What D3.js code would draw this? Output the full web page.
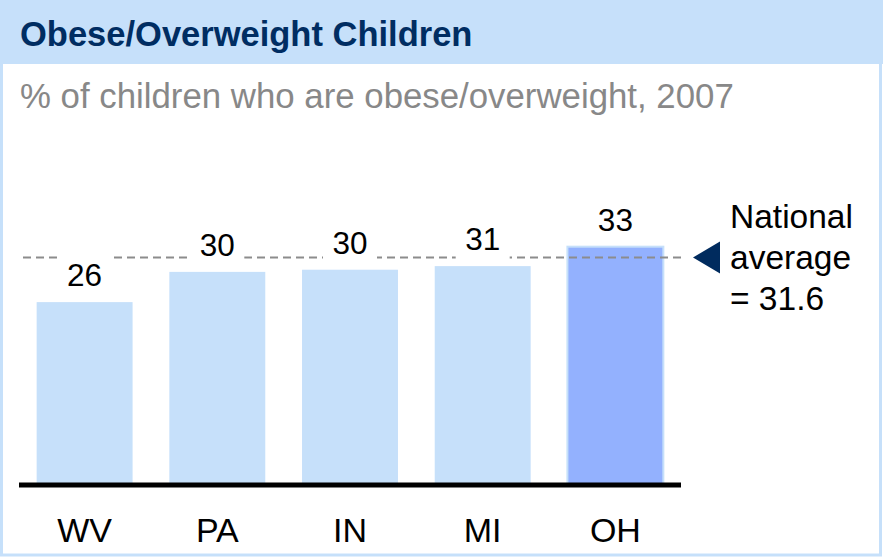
<!DOCTYPE html>
<html>
<head>
<meta charset="utf-8">
<script src="https://cdn.jsdelivr.net/npm/d3@7"></script>
<style>
  html, body { margin: 0; padding: 0; background: #fff; }
  svg { display: block; font-family: "Liberation Sans", Arial, sans-serif; }
</style>
</head>
<body>
<div id="chart"></div>
<script>
// data
const states = ['WV', 'PA', 'IN', 'MI', 'OH'];
const values = [25.4, 29.6, 29.9, 30.4, 33.1];
const valueLabels = ['26', '30', '30', '31', '33'];
const highlight = 'OH';
const nationalAvg = 31.6;
const avgLines = ['National', 'average', '= 31.6'];

const W = 883, H = 558;
const svg = d3.select('#chart').append('svg').attr('width', W).attr('height', H);

// header band + frame
svg.append('rect').attr('x', 0).attr('y', 0).attr('width', W).attr('height', 64).attr('fill', '#c6e0fa');
svg.append('rect').attr('x', 1.5).attr('y', 1).attr('width', 879).attr('height', 554)
  .attr('fill', 'none').attr('stroke', '#c6e0fa').attr('stroke-width', 3);

svg.append('text').attr('x', 20).attr('y', 46)
  .attr('font-size', 34.5).attr('font-weight', 'bold').attr('fill', '#002d62')
  .text('Obese/Overweight Children');
svg.append('text').attr('x', 20).attr('y', 108)
  .attr('font-size', 34.8).attr('fill', '#888888')
  .text('% of children who are obese/overweight, 2007');

const x = d3.scaleBand().domain(states).range([19, 681]).paddingInner(0.277).paddingOuter(0.133);
const y = d3.scaleLinear().domain([0, 40]).range([485, 197]);

const bars = svg.append('g');
bars.selectAll('rect').data(states).enter().append('rect')
  .attr('x', d => x(d)).attr('width', x.bandwidth())
  .attr('y', (d, i) => y(values[i])).attr('height', (d, i) => y(0) - y(values[i]))
  .attr('fill', d => d === highlight ? '#93b1fe' : '#c6e0fa')
  .attr('stroke', d => d === highlight ? '#c6e0fa' : 'none').attr('stroke-width', 2);

// national average dashed line
svg.append('line').attr('x1', 23).attr('x2', 684)
  .attr('y1', y(nationalAvg)).attr('y2', y(nationalAvg))
  .attr('stroke', '#8c8c8c').attr('stroke-width', 2).attr('stroke-dasharray', '8,5');

// value labels with white boxes that break the dashed line
const lab = svg.append('g').selectAll('g').data(states).enter().append('g')
  .attr('transform', (d, i) => `translate(${x(d) + x.bandwidth() / 2},${y(values[i]) - 16})`);
lab.append('rect').attr('x', -27).attr('width', 54).attr('y', -34).attr('height', 46).attr('fill', '#fff');
lab.append('text').attr('text-anchor', 'middle').attr('font-size', 31.5).attr('fill', '#000')
  .text((d, i) => valueLabels[i]);

// baseline
svg.append('line').attr('x1', 19).attr('x2', 681).attr('y1', y(0)).attr('y2', y(0))
  .attr('stroke', '#000').attr('stroke-width', 5);

// category axis
const xAxis = svg.append('g').attr('transform', `translate(0,${y(0)})`)
  .call(d3.axisBottom(x).tickSize(0).tickPadding(0));
xAxis.select('.domain').remove();
xAxis.selectAll('text').attr('font-size', 34).attr('font-family', '"Liberation Sans", Arial, sans-serif')
  .attr('fill', '#000').attr('dy', null).attr('y', 57);

// pointer + annotation
const ay = y(nationalAvg);
svg.append('path').attr('d', `M693,${ay} L720,${ay - 16} L720,${ay + 16} Z`).attr('fill', '#002b5e');
svg.append('text').attr('x', 730).attr('font-size', 33.5).attr('fill', '#000')
  .selectAll('tspan').data(avgLines).enter().append('tspan')
  .attr('x', 730).attr('y', (d, i) => 228 + i * 41).text(d => d);
</script>
</body>
</html>
